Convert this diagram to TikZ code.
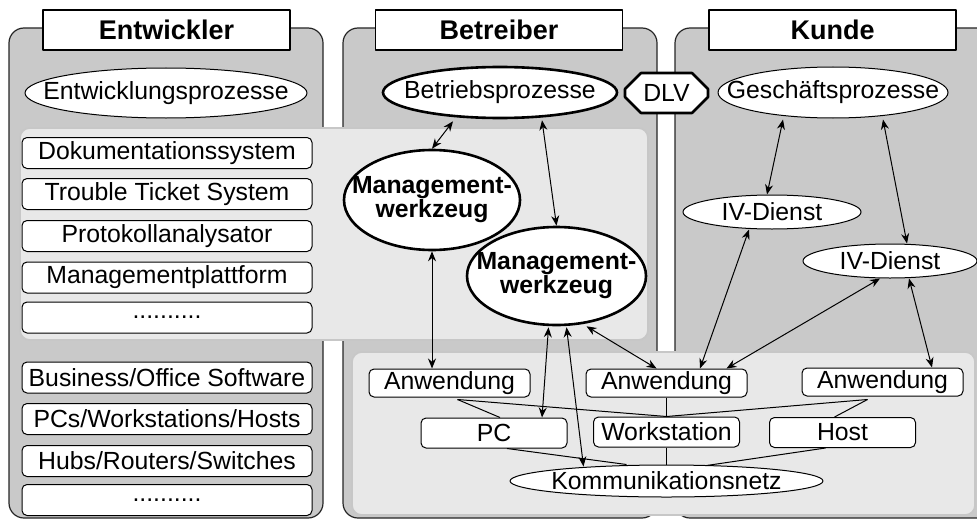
\documentclass[tikz,border=0pt]{standalone}
\usepackage{fontspec}
\setmainfont{Liberation Sans}
\usetikzlibrary{arrows.meta,calc,shapes.geometric,shapes.misc}

\begin{document}
\begin{tikzpicture}[x=0.5pt,y=-0.5pt,line join=round,
        every node/.style={font=\fontsize{12.4}{12}\selectfont}]
        % Local definitions
        \def\moredots{..........}
        % Colors
        \colorlet{columncolor}{black!21}
        \colorlet{panelcolor}{black!9}
        % Styles
        \tikzstyle{column}=[draw=black!85,fill=columncolor,line width=0.6pt,rounded corners=7.5pt]
        \tikzstyle{panel}=[draw=black!22,fill=panelcolor,line width=0.8pt,rounded corners=5pt]
        \tikzstyle{role}=[draw,fill=white,line width=0.6pt,minimum width=123.5pt,minimum height=20pt,
            font=\fontsize{13.5}{14}\selectfont\bfseries]
        \tikzstyle{process}=[ellipse,draw,fill=white,line width=0.5pt,inner sep=0pt,inner xsep=-30pt]
        \tikzstyle{thick process}=[process,line width=1.3pt]
        \tikzstyle{werkzeug}=[thick process,align=center,font=\fontsize{12.4}{12}\selectfont\bfseries]
        \tikzstyle{tool}=[rectangle,draw,fill=white,rounded corners=2.5pt,line width=0.5pt,
            minimum width=145pt,minimum height=15.5pt,inner sep=0pt]
        \tikzstyle{system}=[tool,minimum width=73pt,minimum height=15pt]
        \tikzstyle{app}=[tool,minimum width=80.5pt,minimum height=14pt]
        \tikzstyle{link}=[line width=0.5pt,{Stealth[length=5pt,width=4pt]}-{Stealth[length=5pt,width=4pt]}]
        \tikzstyle{wire}=[line width=0.5pt]
        %The graphic
        \useasboundingbox (0,0) rectangle (977,519);
        \clip (0,0) rectangle (977,519);
        \draw[column] (9,28) rectangle (323,518);
        \draw[column] (343,28) rectangle (657,518);
        \draw[column] (675,28) rectangle (1000,518);
        \draw[panel] (20,128) rectangle (648,340);
        \draw[panel] (352,352) rectangle (975,515);
        % Roles
        \node[role] (entwickler) at (166.5,30) {Entwickler};
        \node[role] (betreiber) at (499,30) {Betreiber};
        \node[role] (kunde) at (832.5,30) {Kunde};
        % Processes
        \node[process,minimum width=141pt,minimum height=25pt] (entwproz) at (166,93) {Entwicklungsprozesse};
        \node[thick process,minimum width=117pt,minimum height=25.5pt] (betrproz) at (500,92.5) {Betriebsprozesse};
        \node[chamfered rectangle,draw,fill=white,line width=1.3pt,chamfered rectangle xsep=4pt,
            chamfered rectangle ysep=4pt,minimum width=41.5pt,minimum height=20pt,inner sep=0pt] (dlv) at (666.5,93) {DLV};
        \node[process,minimum width=115pt,minimum height=25.5pt] (geschproz) at (833,92.5) {Geschäftsprozesse};
        % Tools of the developer
        \foreach \y/\name/\txt in {153/doku/Dokumentationssystem,194/tts/Trouble Ticket System,
            236/protokoll/Protokollanalysator,277.5/plattform/Managementplattform,317.5/toolmore/\moredots,
            377.5/software/{Business/Office Software},419/rechner/{PCs/Workstations/Hosts},
            461/netz/{Hubs/Routers/Switches},500/compmore/\moredots}
            \node[tool] (\name) at (167,\y) {\txt};
        % Management tools
        \node[werkzeug,minimum width=88pt,minimum height=50pt] (mw1) at (432,200) {Management-\\werkzeug};
        \node[werkzeug,minimum width=89.5pt,minimum height=49pt] (mw2) at (556.5,276) {Management-\\werkzeug};
        % Services
        \node[process,minimum width=89pt,minimum height=17pt] (iv1) at (772,212) {IV-Dienst};
        \node[process,minimum width=87pt,minimum height=17pt] (iv2) at (890,261) {IV-Dienst};
        % Resources
        \node[app] (app1) at (449.5,383) {Anwendung};
        \node[app] (app2) at (666.5,383) {Anwendung};
        \node[app] (app3) at (882.5,382) {Anwendung};
        \node[system] (pc) at (494,433) {PC};
        \node[system] (ws) at (666.5,432) {Workstation};
        \node[system] (host) at (842.5,432.5) {Host};
        \node[process,minimum width=156.5pt,minimum height=16pt] (komm) at (666.5,481) {Kommunikationsnetz};
        % Wires
        \draw[wire] ($(app1.south)+(8,2)$) -- ($(pc.north)+(6,0)$);
        \draw[wire] ($(app1.south)+(8,2)$) -- (ws.north);
        \draw[wire] ($(app3.south)+(-15,3)$) -- (ws.north);
        \draw[wire] ($(app3.south)+(-15,3)$) -- ($(host.north)+(-8,0)$);
        \draw[wire] (app2.south) -- (ws.north);
        \draw[wire] (ws.south) -- (komm.north);
        \draw[wire] ($(pc.south)+(13,0)$) -- ($(komm.north)+(-40,0)$);
        \draw[wire] ($(host.south)+(-17,0)$) -- ($(komm.north)+(40,1)$);
        % Links
        \draw[link] ($(betrproz.south)+(-47,2)$) -- (mw1.north);
        \draw[link] ($(betrproz.south)+(42,1)$) -- (mw2.north);
        \draw[link] (mw1.south) -- (mw1.south |- app1.north);
        \draw[link] ($(mw2.south)+(-8,1)$) -- ($(pc.north)+(48,0)$);
        \draw[link] ($(mw2.south)+(10,1)$) -- ($(komm.north)+(-83,2)$);
        \draw[link] ($(mw2.south)+(30,0)$) -- ($(app2.north)+(-10,0)$);
        \draw[link] ($(geschproz.south)+(-50,1)$) -- ($(iv1.north)+(-5,0)$);
        \draw[link] ($(geschproz.south)+(50,1)$) -- ($(iv2.north)+(17,0)$);
        \draw[link] ($(iv1.south)+(-23,0)$) -- ($(app2.north)+(33.5,0)$);
        \draw[link] ($(iv2.south)+(-10,0)$) -- ($(app2.north)+(60,0)$);
        \draw[link] ($(iv2.south)+(19,0)$) -- ($(app3.north)+(49.5,0)$);
\end{tikzpicture}
\end{document}
